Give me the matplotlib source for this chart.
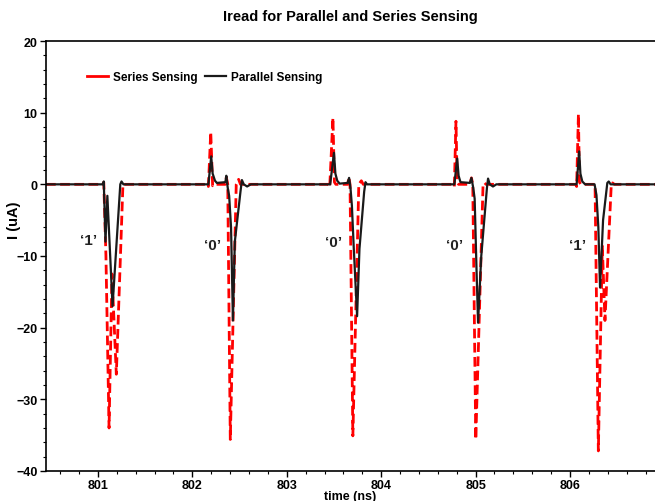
import matplotlib.pyplot as plt
from matplotlib.ticker import MultipleLocator

# series sensing (red dashed)
series_t = [800.45, 801.05, 801.062, 801.085, 801.118, 801.149, 801.195, 801.265, 801.29,
            802.16, 802.17, 802.195, 802.215, 802.23, 802.35, 802.36, 802.375, 802.402, 802.465, 802.49, 802.51,
            803.44, 803.455, 803.489, 803.505, 803.52, 803.645, 803.658, 803.67, 803.70, 803.763, 803.79, 803.81,
            804.76, 804.775, 804.792, 804.805, 804.82, 804.94, 804.956, 804.97, 805.002, 805.079, 805.097, 805.11,
            806.06, 806.07, 806.089, 806.10, 806.115, 806.265, 806.30, 806.342, 806.37, 806.437, 806.45, 806.47,
            806.9]
series_i = [0, 0, 0.3, -10, -34.0, -12.5, -26.5, 0, 0,
            0, -0.3, 7.3, -0.2, 0, 0, 1.0, 0, -35.6, 0, 0.7, 0,
            0, -0.4, 9.3, 0.3, 0, 0, 1.0, 0, -35.1, 0, 0.5, 0,
            0, -0.3, 8.8, 0.3, 0, 0, 0.9, 0, -35.6, 0, 0.2, 0,
            0, -0.3, 9.8, 0.3, 0, 0, -37.2, -8.6, -19.0, 0, 0.2, 0,
            0]

# parallel sensing (black solid)
parallel_t = [800.45, 801.055, 801.062, 801.08, 801.10, 801.155, 801.237, 801.25, 801.27,
              802.17, 802.20, 802.215, 802.24, 802.26, 802.35, 802.36, 802.375, 802.39, 802.41, 802.43, 802.45,
              802.51, 802.525, 802.545, 802.58, 802.62,
              803.46, 803.50, 803.515, 803.535, 803.56, 803.645, 803.66, 803.675, 803.69, 803.71, 803.745, 803.77,
              803.82, 803.834, 803.85,
              804.775, 804.805, 804.82, 804.84, 804.94, 804.956, 804.975, 804.99, 805.01, 805.026, 805.06, 805.12,
              805.132, 805.15, 805.184, 805.22,
              806.07, 806.097, 806.11, 806.13, 806.16, 806.26, 806.28, 806.30, 806.318, 806.35, 806.395, 806.41,
              806.43, 806.9]
parallel_i = [0, 0, 0.4, -8, -1.6, -17, 0, 0.4, 0,
              0, 3.9, 1.5, 0.5, 0.2, 0.3, 1.2, -0.5, -1.6, -6, -19, -8,
              -1, 0.6, 0, -0.3, 0,
              0, 4.4, 1.5, 0.5, 0.1, 0.2, 0.9, -0.5, -3, -9, -18.4, -9,
              -1, 0.3, 0,
              0, 3.6, 1.2, 0.3, 0.2, 0.9, -0.5, -2, -12, -19.3, -10, -0.5,
              0.8, 0, -0.3, 0,
              0, 4.6, 1.5, 0.4, 0, 0, -1.5, -6, -14.4, -5, 0.2, 0.4,
              0, 0]

bit_labels = ["\u20181\u2019", "\u20180\u2019", "\u20180\u2019", "\u20180\u2019", "\u20181\u2019"]
bit_t = [800.9, 802.21, 803.5, 804.78, 806.08]
bit_i = [-7.8, -8.5, -8.0, -8.4, -8.4]

plt.rcParams['font.family'] = ['Liberation Sans', 'DejaVu Sans']
plt.rcParams['font.weight'] = 'bold'

fig = plt.figure(figsize=(6.55, 5.02), dpi=100)
ax = fig.add_axes([0.0702, 0.0598, 0.9298, 0.8565])

ax.plot(series_t, series_i, color='#ff0000', lw=2.0, dashes=(3.5, 1.6), label='Series Sensing')
ax.plot(parallel_t, parallel_i, color='#1a1a1a', lw=1.6, label='Parallel Sensing')

for lab, t, i in zip(bit_labels, bit_t, bit_i):
    ax.text(t, i, lab, fontsize=11, fontweight='bold', color='#222222', ha='center', va='center')

ax.set_xlim(800.45, 806.9)
ax.set_ylim(-40, 20)
ax.xaxis.set_major_locator(MultipleLocator(1))
ax.xaxis.set_minor_locator(MultipleLocator(0.2))
ax.yaxis.set_major_locator(MultipleLocator(10))
ax.yaxis.set_minor_locator(MultipleLocator(2))
ax.tick_params(which='major', length=4, width=1, labelsize=9, pad=2)
ax.tick_params(axis='x', which='major', pad=1.5)
ax.tick_params(which='minor', length=2.5, width=0.8)
ax.spines['right'].set_visible(False)
for s in ['left', 'bottom', 'top']:
    ax.spines[s].set_linewidth(1.2)

ax.set_xlabel('time (ns)', fontsize=9, fontweight='bold', va='center')
ax.xaxis.set_label_coords(0.5, -0.058)
ax.set_ylabel('I (uA)', fontsize=10.5, fontweight='bold', va='center')
ax.yaxis.set_label_coords(-0.053, 0.585)
fig.suptitle('Iread for Parallel and Series Sensing', fontsize=10.5, fontweight='bold', x=0.535, y=0.98)

leg = ax.legend(loc='upper left', bbox_to_anchor=(0.05, 0.955), ncol=2, frameon=False,
                fontsize=8.5, handlelength=1.8, columnspacing=0.6, handletextpad=0.4)
leg.legend_handles[0].set_linestyle('-')

fig.savefig('out.png', dpi=100)
